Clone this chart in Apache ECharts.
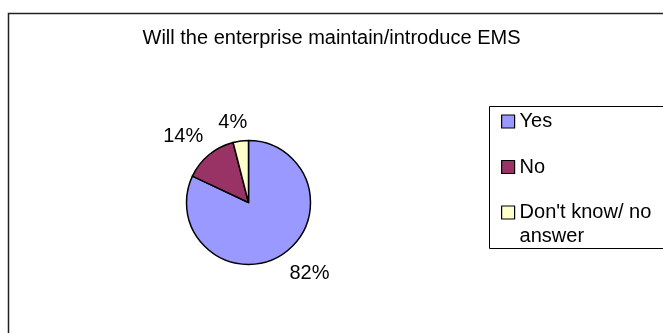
<!DOCTYPE html>
<html>
<head>
<meta charset="utf-8">
<script src="https://cdn.jsdelivr.net/npm/echarts@6/dist/echarts.min.js"></script>
<style>
  html, body { margin: 0; padding: 0; background: #fff; }
  #chart { width: 663px; height: 333px; }
</style>
</head>
<body>
<div id="chart"></div>
<script>
const titleText = 'Will the enterprise maintain/introduce EMS';
const categories = ['Yes', 'No', "Don't know/ no\nanswer"];
const values = [82, 14, 4];
const colors = ['#9999FF', '#993366', '#FFFFCC'];

const FONT = '"Liberation Sans", Arial, sans-serif';
const labelNudge = [[-3, 2], [7, -3], [9, 1]];

const chart = echarts.init(document.getElementById('chart'), null, { renderer: 'canvas' });

const legendCommon = {
  orient: 'vertical',
  left: 501,
  padding: 0,
  itemWidth: 13,
  itemHeight: 13,
  icon: 'rect',
  itemStyle: { borderColor: '#000', borderWidth: 1.2 },
  selectedMode: false
};

chart.setOption({
  animation: false,
  backgroundColor: '#ffffff',
  title: {
    text: titleText,
    left: 'center',
    top: 28,
    padding: 0,
    textStyle: { fontFamily: FONT, fontSize: 20, fontWeight: 'normal', color: '#000' }
  },
  graphic: [{
    type: 'rect',
    shape: { x: 8.5, y: 13.5, width: 700, height: 400 },
    style: { fill: 'none', stroke: '#222', lineWidth: 1.5 },
    silent: true,
    z: -1
  }, {
    type: 'rect',
    shape: { x: 489.5, y: 106.5, width: 200, height: 142 },
    style: { fill: '#fff', stroke: '#000', lineWidth: 1 },
    silent: true,
    z: 0
  }],
  legend: [
    Object.assign({}, legendCommon, {
      top: 110.5,
      itemGap: 23.5,
      textStyle: { fontFamily: FONT, fontSize: 20, color: '#000', lineHeight: 22 },
      data: categories.slice(0, 2)
    }),
    Object.assign({}, legendCommon, {
      top: 176.5,
      textStyle: { fontFamily: FONT, fontSize: 20, color: '#000', lineHeight: 24 },
      formatter: function (name) { return '\n' + name; },
      data: categories.slice(2)
    })
  ],
  series: [{
    type: 'pie',
    center: [248.5, 202.5],
    radius: 62,
    startAngle: 90,
    clockwise: true,
    avoidLabelOverlap: false,
    itemStyle: { borderColor: '#000', borderWidth: 1.5 },
    label: {
      show: true,
      position: 'outside',
      formatter: '{d}%',
      fontFamily: FONT,
      fontSize: 20,
      color: '#000',
      distanceToLabelLine: 0
    },
    labelLine: { show: false, length: 20, length2: 0 },
    labelLayout: function (params) {
      const n = labelNudge[params.dataIndex] || [0, 0];
      return { dx: n[0], dy: n[1] };
    },
    emphasis: { disabled: true },
    data: categories.map(function (name, i) {
      return { name: name, value: values[i], itemStyle: { color: colors[i] } };
    })
  }]
});
</script>
</body>
</html>
